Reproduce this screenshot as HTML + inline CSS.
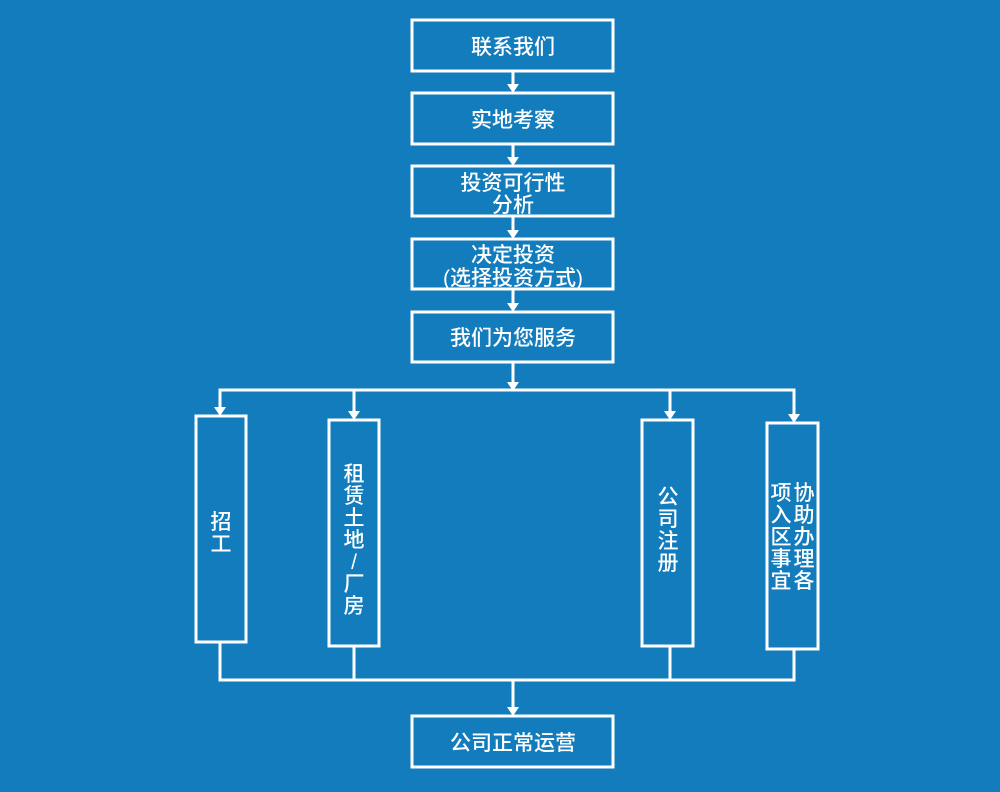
<!DOCTYPE html>
<html><head><meta charset="utf-8"><style>
html,body{margin:0;padding:0;background:#137cbd;}
svg{display:block}
text{font-family:"Liberation Sans","Noto Sans CJK SC",sans-serif;fill:#fff;font-size:21px;font-weight:500;}
</style></head><body>
<svg width="1000" height="792" viewBox="0 0 1000 792" xmlns="http://www.w3.org/2000/svg">
<rect width="1000" height="792" fill="#137cbd"/>
<g fill="none" stroke="#fff" stroke-width="3">
<rect x="412" y="20" width="201" height="51"/>
<rect x="412" y="93" width="201" height="51"/>
<rect x="412" y="166" width="201" height="50"/>
<rect x="412" y="239" width="201" height="50"/>
<rect x="412" y="312" width="201" height="50"/>
<rect x="196" y="416" width="50" height="226"/>
<rect x="329" y="420" width="50" height="226"/>
<rect x="642" y="420" width="51" height="226"/>
<rect x="767" y="423" width="51" height="226"/>
<rect x="412" y="716" width="201" height="51"/>
<line x1="513" y1="71" x2="513" y2="86"/>
<line x1="513" y1="144" x2="513" y2="159"/>
<line x1="513" y1="216" x2="513" y2="232"/>
<line x1="513" y1="289" x2="513" y2="305"/>
<line x1="513" y1="362" x2="513" y2="390"/>
<polyline points="220,409 220,390 794,390 794,416"/>
<line x1="354" y1="390" x2="354" y2="413"/>
<line x1="670" y1="390" x2="670" y2="413"/>
<polyline points="220,642 220,680 794,680 794,649"/>
<line x1="354" y1="646" x2="354" y2="680"/>
<line x1="670" y1="646" x2="670" y2="680"/>
<line x1="513" y1="680" x2="513" y2="709"/>
</g>
<g fill="#fff">
<polygon points="507,84 519,84 513,93"/>
<polygon points="507,157 519,157 513,166"/>
<polygon points="507,230 519,230 513,239"/>
<polygon points="507,303 519,303 513,312"/>
<polygon points="507,382 519,382 513,391"/>
<polygon points="214,407 226,407 220,416"/>
<polygon points="348,411 360,411 354,420"/>
<polygon points="664,411 676,411 670,420"/>
<polygon points="788,414 800,414 794,423"/>
<polygon points="507,707 519,707 513,716"/>
</g>
<g text-anchor="middle">
<text x="513" y="54">联系我们</text>
<text x="513" y="127">实地考察</text>
<text x="513" y="190">投资可行性</text>
<text x="513" y="212">分析</text>
<text x="513" y="262">决定投资</text>
<text x="513" y="285">(选择投资方式)</text>
<text x="513" y="345">我们为您服务</text>
<text x="513" y="750">公司正常运营</text>
<text x="221" y="529">招</text><text x="221" y="551">工</text>
<text x="354" y="481">租</text><text x="354" y="503">赁</text><text x="354" y="525">土</text><text x="354" y="547">地</text><text x="354" y="569">/</text><text x="354" y="591">厂</text><text x="354" y="613">房</text>
<text x="668" y="504">公</text><text x="668" y="526">司</text><text x="668" y="548">注</text><text x="668" y="570">册</text>
<text x="804" y="500">协</text><text x="804" y="522">助</text><text x="804" y="544">办</text><text x="804" y="566">理</text><text x="804" y="588">各</text>
<text x="781" y="500">项</text><text x="781" y="522">入</text><text x="781" y="544">区</text><text x="781" y="566">事</text><text x="781" y="588">宜</text>
</g>
</svg>
</body></html>
